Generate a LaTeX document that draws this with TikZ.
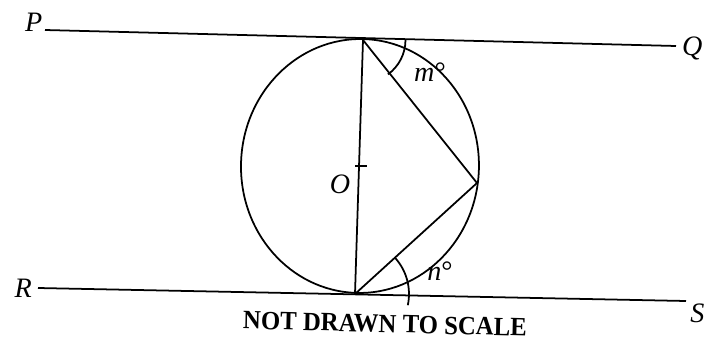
\documentclass[tikz,border=0pt]{standalone}
\usepackage{fontspec}
\setmainfont{Liberation Serif}
\usetikzlibrary{positioning}

\begin{document}
\begin{tikzpicture}[x=0.02cm, y=-0.02cm, line width=1pt,
	pt/.style={font=\fontsize{16}{16}\selectfont\itshape, inner sep=1pt}]
	\useasboundingbox (0,0) rectangle (711,345);

	\coordinate (P) at (45,30);
	\coordinate (Q) at (676,46);
	\coordinate (R) at (38,288);
	\coordinate (S) at (686,301);
	\coordinate (T) at (363,40);
	\coordinate (B) at (355,294);
	\coordinate (V) at (477,183);
	\coordinate (O) at (360,166);

	\node[pt, left=0pt of P, yshift=0.15cm] (p) {P};
	\node[pt, right=2pt of Q, yshift=-0.05cm] (q) {Q};
	\node[pt, left=2pt of R] (r) {R};
	\node[pt, right=1pt of S, yshift=-0.25cm] (s) {S};
	\node[pt] (o) at (340,184) {O};
	\node[pt] (m) at (430,72) {m{\upshape\textdegree}};
	\node[pt] (n) at (440,271) {n{\upshape\textdegree}};

	\draw (P) -- (Q);
	\draw (R) -- (S);
	\draw[rotate around={-1.8:(O)}] (O) ellipse [x radius=2.38cm, y radius=2.54cm];
	\draw (T) -- (B) (T) -- (V) -- (B);
	\draw ([xshift=-0.1cm]O) -- ([xshift=0.14cm]O);

	\draw ([shift={(-54:0.85cm)}]T) arc[start angle=-54, end angle=0, radius=0.85cm];
	\draw ([shift={(-12:1.08cm)}]B) arc[start angle=-12, end angle=42, radius=1.08cm];

	\node[font=\bfseries\fontsize{15}{15}\selectfont, xscale=0.94, rotate=-1.4] (note) at (385,324) {NOT DRAWN TO SCALE};

\end{tikzpicture}
\end{document}
